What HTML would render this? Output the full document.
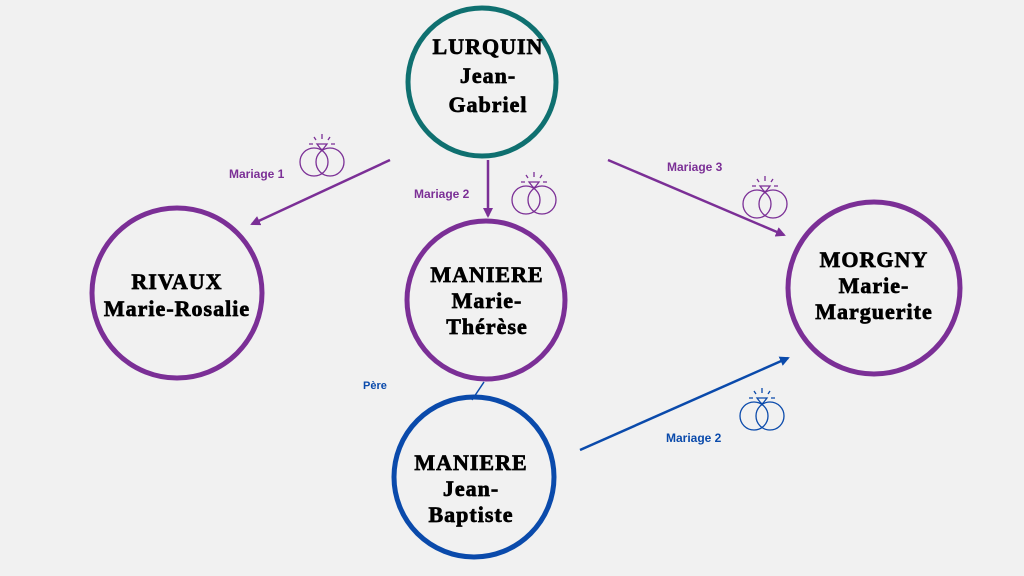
<!DOCTYPE html>
<html><head><style>
body{margin:0;width:1024px;height:576px;background:#f1f1f1;overflow:hidden}
svg{display:block}
.n{font-family:"Liberation Serif",serif;font-weight:bold;font-size:22px;letter-spacing:1px;fill:#000;stroke:#000;stroke-width:0.7;text-anchor:middle}
.l{font-family:"Liberation Sans",sans-serif;font-weight:bold;font-size:12px}
</style></head><body>
<svg width="1024" height="576" viewBox="0 0 1024 576">
<defs>
<marker id="ap" markerWidth="10" markerHeight="10" refX="8" refY="5" orient="auto" markerUnits="userSpaceOnUse"><path d="M0,0 L10,5 L0,10 z" fill="#7b2f96"/></marker>
<marker id="ab" markerWidth="10" markerHeight="10" refX="8" refY="5" orient="auto" markerUnits="userSpaceOnUse"><path d="M0,0 L10,5 L0,10 z" fill="#0a4aab"/></marker>
<g id="ring" fill="none" stroke-width="1.3">
<circle cx="-8" cy="8" r="14"/><circle cx="8" cy="8" r="14"/>
<path d="M-5,-10 L5,-10 L2,-6 L0,-4 L-2,-6 Z"/>
<path d="M0,-20 V-15 M-8,-17 L-6,-14 M8,-17 L6,-14 M-13,-10 H-9 M13,-10 H9"/>
</g>
</defs>
<g stroke="#7b2f96" stroke-width="2.5">
<line x1="390" y1="160" x2="252" y2="224" marker-end="url(#ap)"/>
<line x1="488" y1="160" x2="488" y2="216" marker-end="url(#ap)"/>
<line x1="608" y1="160" x2="784" y2="235" marker-end="url(#ap)"/>
</g>
<line x1="580" y1="450" x2="788" y2="358" stroke="#0a4aab" stroke-width="2.5" marker-end="url(#ab)"/>
<line x1="484" y1="382" x2="472" y2="400" stroke="#0a4aab" stroke-width="1.5"/>
<circle cx="482" cy="82" r="74" fill="none" stroke="#0f7070" stroke-width="5"/>
<circle cx="177" cy="293" r="85" fill="none" stroke="#7b2f96" stroke-width="5"/>
<circle cx="486" cy="300" r="79" fill="none" stroke="#7b2f96" stroke-width="5"/>
<circle cx="874" cy="288" r="86" fill="none" stroke="#7b2f96" stroke-width="5"/>
<circle cx="474" cy="477" r="80" fill="none" stroke="#0a4aab" stroke-width="5"/>
<text class="n"><tspan x="488" y="54">LURQUIN</tspan><tspan x="488" y="83">Jean-</tspan><tspan x="488" y="112">Gabriel</tspan></text>
<text class="n"><tspan x="177" y="289">RIVAUX</tspan><tspan x="177" y="316">Marie-Rosalie</tspan></text>
<text class="n"><tspan x="487" y="282">MANIERE</tspan><tspan x="487" y="308">Marie-</tspan><tspan x="487" y="334">Thérèse</tspan></text>
<text class="n"><tspan x="874" y="267">MORGNY</tspan><tspan x="874" y="293">Marie-</tspan><tspan x="874" y="319">Marguerite</tspan></text>
<text class="n"><tspan x="471" y="470">MANIERE</tspan><tspan x="471" y="496">Jean-</tspan><tspan x="471" y="522">Baptiste</tspan></text>
<g class="l" fill="#7b2f96"><text x="229" y="178">Mariage 1</text><text x="414" y="198">Mariage 2</text><text x="667" y="171">Mariage 3</text></g>
<g class="l" fill="#0a4aab"><text x="363" y="389" font-size="11">Père</text><text x="666" y="442">Mariage 2</text></g>
<use href="#ring" x="322" y="154" stroke="#7b2f96"/>
<use href="#ring" x="534" y="192" stroke="#7b2f96"/>
<use href="#ring" x="765" y="196" stroke="#7b2f96"/>
<use href="#ring" x="762" y="408" stroke="#0a4aab"/>
</svg>
</body></html>
